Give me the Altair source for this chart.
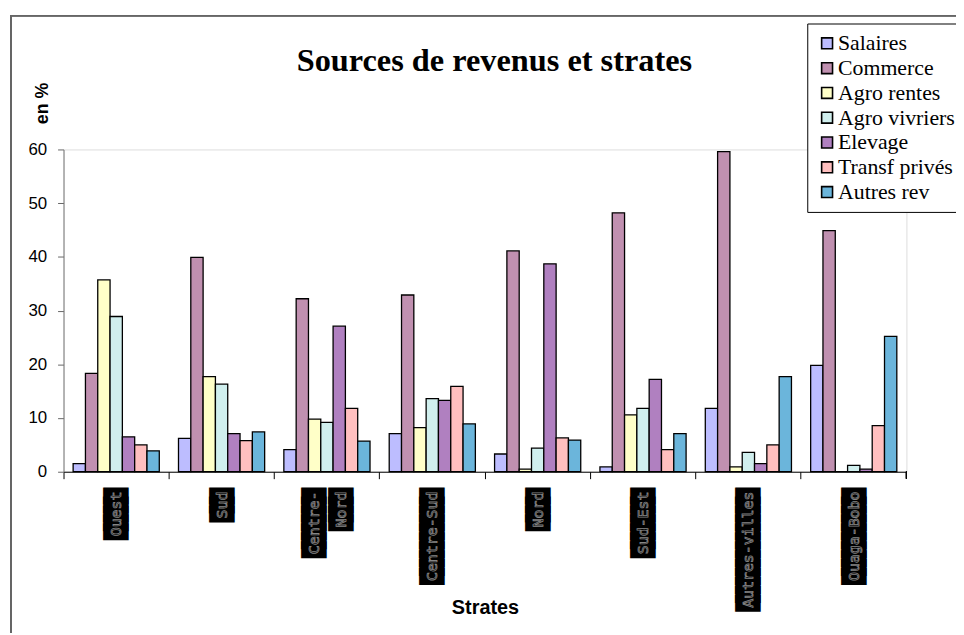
import altair as alt
import pandas as pd

strates = ["Ouest", "Sud", "Centre-Nord", "Centre-Sud", "Nord", "Sud-Est", "Autres-villes", "Ouaga-Bobo"]
strate_labels = ["Ouest", "Sud", "Centre-\nNord", "Centre-Sud", "Nord", "Sud-Est", "Autres-villes", "Ouaga-Bobo"]
series = ["Salaires", "Commerce", "Agro rentes", "Agro vivriers", "Elevage", "Transf privés", "Autres rev"]
colors = ["#BDBDFF", "#C090B0", "#FFFFC8", "#D0EFEE", "#B080C0", "#FFBFBF", "#6BB5DB"]

salaires = [1.5, 6.2, 4.1, 7.1, 3.3, 0.9, 11.8, 19.8]
commerce = [18.3, 39.9, 32.2, 32.9, 41.1, 48.2, 59.6, 44.9]
agro_rentes = [35.7, 17.7, 9.8, 8.2, 0.5, 10.6, 0.9, 0.0]
agro_vivriers = [28.9, 16.3, 9.2, 13.6, 4.4, 11.8, 3.6, 1.2]
elevage = [6.5, 7.1, 27.1, 13.3, 38.7, 17.2, 1.5, 0.5]
transf_prives = [5.0, 5.8, 11.8, 15.9, 6.3, 4.1, 5.0, 8.6]
autres_rev = [3.9, 7.4, 5.7, 8.9, 5.9, 7.1, 17.7, 25.2]

values = [salaires, commerce, agro_rentes, agro_vivriers, elevage, transf_prives, autres_rev]
rows = []
for s, vals in zip(series, values):
    for st, v in zip(strates, vals):
        rows.append({"Strate": st, "Source": s, "Valeur": v})
df = pd.DataFrame(rows)

lab_df = pd.DataFrame({"Strate": strates, "Label": strate_labels})
# black label boxes: one full-block glyph per character of the label
lab_df["Box"] = lab_df["Label"].str.replace(r"[^\n]", "\u2588", regex=True)
multi = lab_df["Label"].str.contains("\n")
lab_single = lab_df[~multi]
lab_multi = lab_df[multi]

W, H = 850, 325

xenc = alt.X("Strate:N", sort=strates,
             scale=alt.Scale(paddingInner=0, paddingOuter=0),
             axis=alt.Axis(title="Strates", labels=False, bandPosition=0,
                           tickSize=7, tickColor="black", domainColor="black",
                           titleFont="Liberation Sans", titleFontSize=20, titleFontWeight="bold",
                           titleY=137, titleBaseline="middle", titleColor="black"))

bars = alt.Chart(df).mark_bar(stroke="black", strokeWidth=1.3).encode(
    x=xenc,
    xOffset=alt.XOffset("Source:N", sort=series, scale=alt.Scale(paddingInner=0, paddingOuter=0.78)),
    y=alt.Y("Valeur:Q", scale=alt.Scale(domain=[0, 60], nice=False),
            axis=alt.Axis(title="en %", values=[0, 10, 20, 30, 40, 50, 60], grid=False,
                          tickSize=6, tickColor="#666666", domainColor="#777777",
                          labelFont="Liberation Sans", labelFontSize=17, labelColor="black",
                          labelPadding=11,
                          titleFont="Liberation Sans", titleFontSize=18, titleFontWeight="bold",
                          titleAngle=270, titleX=-21, titleY=-47, titleAlign="center",
                          titleBaseline="middle", titleColor="black")),
    color=alt.Color("Source:N", sort=series, scale=alt.Scale(domain=series, range=colors),
                    legend=alt.Legend(title=None, orient="none", legendX=750, legendY=-127,
                                      strokeColor="black", fillColor="white", padding=9,
                                      symbolType="square", symbolSize=121, symbolStrokeColor="black",
                                      symbolStrokeWidth=1.6, symbolOpacity=1,
                                      labelFont="Liberation Serif", labelFontSize=22,
                                      labelColor="black", rowPadding=3, labelOffset=0,
                                      labelLimit=220)),
)


def label_layers(data, dy):
    common = dict(angle=270, align="right", baseline="middle", lineBreak="\n",
                  lineHeight=27, dy=dy, font="DejaVu Sans Mono", fontSize=15)
    bg = alt.Chart(data).mark_text(fill="black", stroke="black", strokeWidth=8,
                                   strokeJoin="miter", **common).encode(
        x=alt.X("Strate:N", sort=strates), y=alt.value(H + 20), text="Box:N")
    fg = alt.Chart(data).mark_text(fill="black", stroke="#858585", strokeWidth=0.8,
                                   **common).encode(
        x=alt.X("Strate:N", sort=strates), y=alt.value(H + 20), text="Label:N")
    return [bg, fg]


end_tick = alt.Chart(lab_df).mark_rule(color="black", strokeWidth=1).encode(
    x=alt.value(W), y=alt.value(H), y2=alt.value(H + 7))

frame = alt.Chart(lab_df).mark_rect(fill=None, stroke="#666666", strokeWidth=1.2).encode(
    x=alt.value(-53), x2=alt.value(W + 200), y=alt.value(-135), y2=alt.value(H + 300))

chart = alt.layer(frame, bars, *label_layers(lab_single, 0), *label_layers(lab_multi, -13),
                  end_tick).properties(
    width=W, height=H,
    autosize=alt.AutoSizeParams(type="none"),
    padding={"left": 56, "top": 140, "right": 50, "bottom": 160},
    title=alt.Title("Sources de revenus et strates", font="Liberation Serif", fontSize=32.6,
                    fontWeight="bold", color="black", anchor="middle", frame="group",
                    offset=0, dx=9.5, dy=63),
).configure_view(strokeWidth=0, strokeOpacity=0).configure(background="white")

chart.save("out.html", embed_options={"renderer": "svg", "actions": False})
